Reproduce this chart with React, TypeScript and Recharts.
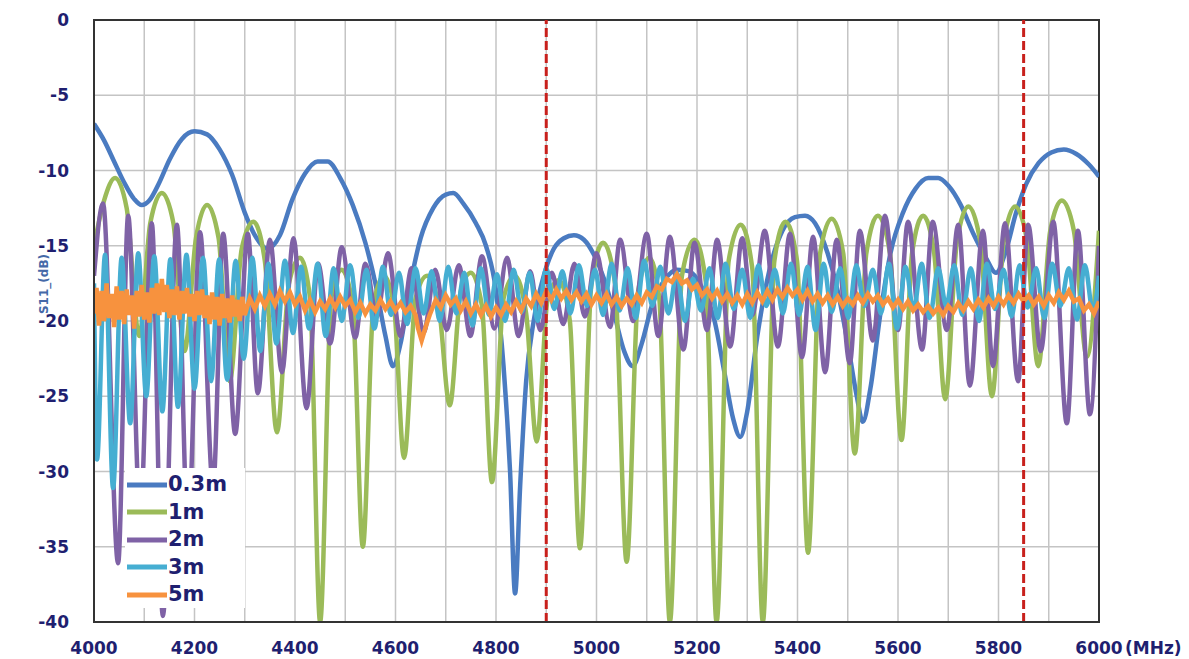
import React from 'react';
import { LineChart, Line, XAxis, YAxis, CartesianGrid, ReferenceLine, ReferenceArea, Legend } from 'recharts';

const xTicks = [4000, 4200, 4400, 4600, 4800, 5000, 5200, 5400, 5600, 5800, 6000];
const gridFreqs = [4000, 4100, 4200, 4300, 4400, 4500, 4600, 4700, 4800, 4900, 5000, 5100, 5200, 5300, 5400, 5500, 5600, 5700, 5800, 5900, 6000];
const yTicks = [0, -5, -10, -15, -20, -25, -30, -35, -40];
const markerFreqs = [4900, 5850];

const s03m: [number, number][] = [
  [4000, -6.9], [4020, -8.0], [4040, -9.4], [4060, -10.8], [4080, -11.9], [4095, -12.3], [4110, -12.0], [4130, -10.8],
  [4150, -9.3], [4175, -7.9], [4200, -7.4], [4225, -7.6], [4250, -8.6], [4275, -10.3], [4300, -12.8], [4320, -14.3],
  [4345, -15.2], [4370, -14.3], [4395, -11.9], [4420, -10.2], [4445, -9.4], [4465, -9.4], [4490, -10.5], [4515, -12.3],
  [4540, -14.8], [4560, -17.5], [4580, -21.0], [4595, -23.0], [4610, -21.5], [4630, -17.5], [4650, -14.5], [4675, -12.5],
  [4700, -11.6], [4715, -11.5], [4735, -12.2], [4760, -13.5], [4780, -15.0], [4800, -18.0], [4815, -23.0], [4828, -30.0],
  [4838, -38.1], [4848, -31.0], [4860, -24.0], [4875, -20.0], [4895, -17.0], [4915, -15.2], [4935, -14.5], [4955, -14.3],
  [4975, -14.6], [4995, -15.6], [5015, -17.2], [5035, -19.5], [5055, -22.0], [5072, -23.0], [5090, -21.5], [5110, -19.0],
  [5135, -17.3], [5160, -16.6], [5185, -16.7], [5210, -17.8], [5235, -20.0], [5255, -23.5], [5272, -26.5], [5286, -27.7],
  [5300, -26.0], [5320, -21.0], [5345, -16.5], [5370, -14.0], [5395, -13.1], [5415, -13.0], [5435, -13.5], [5460, -15.5],
  [5480, -18.0], [5500, -21.5], [5518, -25.0], [5530, -26.7], [5545, -24.5], [5565, -19.5], [5585, -15.5], [5610, -12.8],
  [5635, -11.2], [5660, -10.5], [5680, -10.5], [5700, -11.0], [5725, -12.3], [5750, -14.2], [5775, -15.8], [5795, -16.8],
  [5815, -15.3], [5835, -12.8], [5855, -10.9], [5880, -9.5], [5905, -8.8], [5930, -8.6], [5955, -8.9], [5980, -9.6], [6000, -10.4],
];

const s1m: [number, number][] = [
  [4000, -15.0], [4020, -12.0], [4042, -10.5], [4065, -12.5], [4090, -21.0], [4112, -13.5], [4135, -11.5], [4158, -13.5],
  [4180, -22.0], [4203, -14.5], [4225, -12.3], [4248, -14.5], [4270, -24.0], [4294, -15.2], [4317, -13.4], [4340, -16.0],
  [4364, -27.4], [4388, -17.5], [4410, -15.8], [4430, -18.5], [4450, -40], [4472, -18.5], [4493, -16.6], [4515, -19.0],
  [4535, -35.0], [4556, -19.0], [4577, -17.0], [4597, -19.0], [4617, -29.1], [4640, -18.5], [4663, -17.0], [4686, -19.0],
  [4708, -25.6], [4730, -18.0], [4750, -16.8], [4772, -19.0], [4792, -30.7], [4815, -18.5], [4837, -17.0], [4860, -19.5],
  [4881, -28.0], [4903, -18.5], [4925, -17.3], [4947, -20.0], [4967, -35.1], [4990, -17.5], [5013, -14.8], [5037, -17.5],
  [5060, -36.0], [5083, -18.0], [5105, -15.8], [5125, -18.5], [5146, -40], [5170, -17.0], [5195, -14.6], [5218, -17.5],
  [5239, -40], [5263, -16.0], [5287, -13.6], [5310, -16.5], [5331, -40], [5354, -16.0], [5376, -13.4], [5399, -16.0],
  [5421, -35.4], [5445, -15.5], [5468, -13.2], [5491, -15.5], [5514, -28.8], [5537, -15.5], [5560, -13.0], [5584, -15.5],
  [5607, -27.9], [5628, -15.5], [5650, -13.0], [5672, -15.5], [5694, -25.2], [5717, -14.8], [5740, -12.4], [5764, -14.8],
  [5787, -25.0], [5810, -14.8], [5833, -12.4], [5856, -14.5], [5879, -23.0], [5903, -14.0], [5926, -12.0], [5950, -14.0],
  [5976, -22.4], [6000, -14.0],
];

const s2m: [number, number][] = [
  [4000, -17.0], [4018, -12.2], [4048, -36.1], [4068, -13.0], [4092, -33.0], [4115, -13.5], [4137, -39.6], [4165, -13.6],
  [4187, -34.0], [4211, -14.1], [4237, -31.0], [4257, -14.2], [4281, -27.5], [4306, -14.2], [4326, -24.8], [4350, -14.6],
  [4374, -23.4], [4397, -14.5], [4423, -25.8], [4446, -16.2], [4470, -21.5], [4493, -15.1], [4520, -21.1], [4540, -16.2],
  [4563, -19.7], [4585, -15.5], [4610, -21.0], [4632, -16.5], [4656, -20.8], [4679, -16.6], [4702, -20.6], [4726, -16.3],
  [4749, -21.0], [4772, -15.7], [4797, -20.5], [4822, -15.8], [4845, -21.0], [4868, -16.7], [4888, -20.6], [4911, -16.8],
  [4934, -20.2], [4956, -16.2], [4977, -19.7], [5000, -15.5], [5027, -20.4], [5047, -14.6], [5073, -20.0], [5100, -14.2],
  [5123, -21.0], [5146, -14.4], [5173, -21.9], [5195, -14.8], [5220, -20.6], [5240, -14.6], [5266, -21.7], [5290, -14.5],
  [5310, -19.6], [5335, -14.0], [5361, -21.7], [5385, -14.2], [5409, -22.4], [5431, -14.4], [5455, -23.4], [5478, -14.6],
  [5504, -22.8], [5524, -14.0], [5550, -21.3], [5574, -13.0], [5600, -20.6], [5620, -13.4], [5648, -21.9], [5669, -13.4],
  [5697, -20.6], [5720, -13.6], [5743, -24.3], [5769, -14.0], [5789, -23.0], [5813, -13.5], [5839, -24.0], [5859, -13.6],
  [5884, -22.0], [5909, -13.4], [5936, -26.8], [5958, -14.0], [5982, -26.2], [6000, -15.0],
];

const s3m: [number, number][] = [
  [4000, -17.5], [4006, -29.2], [4022, -15.6], [4038, -31.1], [4055, -15.8], [4072, -26.8], [4088, -15.5], [4104, -25.0],
  [4120, -15.7], [4136, -26.0], [4152, -15.9], [4167, -25.7], [4184, -15.6], [4200, -24.5], [4217, -15.8], [4233, -24.0],
  [4249, -15.9], [4265, -23.9], [4282, -16.0], [4298, -22.5], [4315, -15.8], [4331, -22.0], [4347, -16.2], [4363, -21.5],
  [4380, -16.0], [4396, -20.8], [4412, -16.4], [4428, -20.5], [4445, -16.2], [4461, -21.0], [4477, -16.5], [4493, -20.0],
  [4510, -16.3], [4526, -19.8], [4542, -16.6], [4558, -20.5], [4575, -16.4], [4591, -19.6], [4607, -16.8], [4623, -20.2],
  [4640, -16.5], [4656, -19.5], [4672, -16.7], [4688, -20.0], [4705, -16.4], [4721, -19.5], [4737, -16.8], [4753, -20.3],
  [4770, -16.5], [4786, -19.6], [4802, -16.9], [4818, -20.0], [4835, -16.6], [4851, -19.4], [4867, -16.8], [4883, -20.0],
  [4900, -16.5], [4916, -19.2], [4932, -16.7], [4948, -19.5], [4965, -16.3], [4981, -19.0], [4997, -16.6], [5013, -19.6],
  [5030, -16.2], [5046, -19.3], [5062, -16.5], [5078, -19.8], [5095, -16.0], [5111, -19.0], [5127, -16.4], [5143, -19.5],
  [5160, -16.8], [5176, -20.0], [5192, -17.2], [5208, -19.3], [5225, -16.5], [5241, -19.8], [5257, -16.2], [5273, -19.2],
  [5290, -16.6], [5306, -19.8], [5322, -16.3], [5338, -19.0], [5355, -16.6], [5371, -19.5], [5387, -16.2], [5403, -19.6],
  [5420, -16.4], [5436, -20.6], [5452, -16.2], [5468, -19.4], [5485, -16.5], [5501, -19.8], [5517, -16.3], [5533, -19.0],
  [5550, -16.6], [5566, -19.5], [5582, -16.2], [5598, -20.5], [5615, -16.4], [5631, -19.3], [5647, -16.2], [5663, -19.8],
  [5680, -16.5], [5696, -19.0], [5712, -16.3], [5728, -19.6], [5745, -16.5], [5761, -20.0], [5777, -16.2], [5793, -19.2],
  [5810, -16.6], [5826, -19.7], [5842, -16.3], [5858, -19.1], [5875, -16.5], [5891, -19.8], [5907, -16.2], [5923, -19.0],
  [5940, -16.5], [5956, -19.9], [5972, -16.3], [5988, -19.4], [6000, -17.0],
];

const s5m: [number, number][] = [
  [4000, -19.5], [4005, -17.8], [4010, -20.3], [4015, -18.0], [4020, -20.0], [4025, -17.5], [4030, -19.8], [4035, -18.2],
  [4040, -20.4], [4045, -17.7], [4050, -19.9], [4055, -18.0], [4060, -20.2], [4065, -17.9], [4070, -19.6], [4075, -18.3],
  [4080, -20.5], [4085, -18.0], [4090, -19.7], [4095, -17.6], [4100, -19.9], [4105, -18.1], [4110, -20.1], [4115, -17.8],
  [4120, -19.5], [4125, -17.5], [4130, -19.6], [4135, -17.2], [4140, -19.4], [4145, -17.6], [4150, -19.8], [4155, -17.9],
  [4160, -19.6], [4165, -17.7], [4170, -19.9], [4175, -18.0], [4180, -19.5], [4185, -17.8], [4190, -19.7], [4195, -18.2],
  [4200, -20.0], [4205, -18.0], [4210, -19.6], [4215, -17.9], [4220, -19.8], [4225, -18.3], [4230, -20.2], [4235, -18.1],
  [4240, -19.9], [4245, -18.4], [4250, -20.3], [4255, -18.2], [4260, -19.8], [4265, -18.5], [4270, -20.1], [4275, -18.3],
  [4280, -19.7], [4285, -18.6], [4290, -20.0], [4295, -18.4], [4300, -19.6], [4310, -18.5], [4320, -19.2], [4330, -18.3],
  [4340, -19.0], [4350, -18.2], [4360, -18.9], [4370, -18.0], [4380, -18.7], [4390, -18.1], [4400, -18.9], [4410, -18.4],
  [4420, -19.3], [4430, -18.6], [4440, -19.4], [4450, -18.7], [4460, -19.2], [4470, -18.5], [4480, -19.1], [4490, -18.4],
  [4500, -19.0], [4510, -18.6], [4520, -19.4], [4530, -18.8], [4540, -19.5], [4550, -18.9], [4560, -19.3], [4570, -18.6],
  [4580, -19.2], [4590, -18.7], [4600, -19.3], [4610, -18.8], [4620, -19.4], [4630, -19.0], [4640, -19.6], [4645, -20.5],
  [4652, -21.3], [4660, -20.4], [4668, -19.6], [4680, -18.6], [4690, -19.1], [4700, -18.3], [4710, -18.9], [4720, -18.5],
  [4730, -19.3], [4740, -18.7], [4750, -19.5], [4760, -18.9], [4770, -19.6], [4780, -19.0], [4790, -19.7], [4800, -19.1],
  [4810, -19.6], [4820, -18.9], [4830, -19.4], [4840, -18.7], [4850, -19.3], [4860, -18.5], [4870, -19.0], [4880, -18.2],
  [4890, -18.8], [4900, -18.0], [4910, -18.6], [4920, -17.9], [4930, -18.5], [4940, -18.0], [4950, -18.6], [4960, -18.1],
  [4970, -18.7], [4980, -18.2], [4990, -18.9], [5000, -18.3], [5010, -18.8], [5020, -18.2], [5030, -18.9], [5040, -18.4],
  [5050, -19.0], [5060, -18.5], [5070, -18.9], [5080, -18.3], [5090, -18.8], [5100, -18.1], [5110, -18.4], [5120, -17.7],
  [5130, -17.9], [5140, -17.2], [5150, -17.4], [5160, -16.9], [5170, -17.5], [5180, -17.3], [5190, -17.9], [5200, -17.6],
  [5210, -18.3], [5220, -17.9], [5230, -18.5], [5240, -18.0], [5250, -18.7], [5260, -18.2], [5270, -18.8], [5280, -18.3],
  [5290, -18.9], [5300, -18.2], [5310, -18.8], [5320, -18.1], [5330, -18.7], [5340, -18.0], [5350, -18.6], [5360, -17.9],
  [5370, -18.4], [5380, -17.8], [5390, -18.3], [5400, -17.9], [5410, -18.6], [5420, -18.0], [5430, -18.7], [5440, -18.2],
  [5450, -18.8], [5460, -18.3], [5470, -18.9], [5480, -18.4], [5490, -19.0], [5500, -18.5], [5510, -18.9], [5520, -18.3],
  [5530, -18.8], [5540, -18.2], [5550, -18.7], [5560, -18.3], [5570, -18.9], [5580, -18.5], [5590, -19.1], [5600, -18.6],
  [5610, -19.2], [5620, -18.7], [5630, -19.3], [5640, -18.9], [5650, -19.4], [5660, -19.0], [5670, -19.5], [5680, -19.1],
  [5690, -19.6], [5700, -19.0], [5710, -19.4], [5720, -18.8], [5730, -19.3], [5740, -18.7], [5750, -19.2], [5760, -18.6],
  [5770, -19.1], [5780, -18.5], [5790, -19.0], [5800, -18.4], [5810, -18.9], [5820, -18.3], [5830, -18.8], [5840, -18.2],
  [5850, -18.7], [5860, -18.3], [5870, -18.9], [5880, -18.4], [5890, -19.0], [5900, -18.3], [5910, -18.8], [5920, -18.1],
  [5930, -18.6], [5940, -18.0], [5950, -18.7], [5960, -18.5], [5970, -19.3], [5980, -18.9], [5990, -19.5], [6000, -18.7],
];

const seriesNames = ['0.3m', '1m', '2m', '3m', '5m'];
const seriesColors = ['#4a7bc1', '#9bbb59', '#7f62a6', '#46aed2', '#f7923e'];
const seriesData = [s03m, s1m, s2m, s3m, s5m];
const seriesCurves: ('monotone' | 'linear')[] = ['monotone', 'monotone', 'monotone', 'monotone', 'linear'];

const NAVY = '#1f1f70';
const FONT = '"DejaVu Sans", Arial, sans-serif';

const XTick = (props: any) => {
  const { x, y, payload } = props;
  return (
    <g>
      <text x={x} y={y + 32} textAnchor="middle" fill={NAVY} fontFamily={FONT} fontWeight="bold" fontSize={17}>
        {payload.value}
      </text>
      {payload.value === 6000 ? (
        <text x={x + 26} y={y + 32} textAnchor="start" fill={NAVY} fontFamily={FONT} fontWeight="bold" fontSize={17}>
          (MHz)
        </text>
      ) : null}
    </g>
  );
};

const YTick = (props: any) => {
  const { x, y, payload } = props;
  return (
    <text x={x - 25} y={y + 6} textAnchor="end" fill={NAVY} fontFamily={FONT} fontWeight="bold" fontSize={17}>
      {payload.value}
    </text>
  );
};

const YLabel = (props: any) => {
  const vb = props.viewBox || { x: 0, y: 12, width: 86, height: 602 };
  const cx = vb.x + 36;
  const cy = vb.y + vb.height / 2 - 37;
  return (
    <text x={cx} y={cy} transform={`rotate(-90 ${cx} ${cy})`} textAnchor="middle" dominantBaseline="central"
      fill="#4569a8" fontFamily={FONT} fontWeight="bold" fontSize={12}>
      S11_(dB)
    </text>
  );
};

const LegendBox = (props: any) => {
  const payload = props.payload || [];
  return (
    <div style={{ background: '#fff', width: 120, height: 140, paddingTop: 3, boxSizing: 'border-box' }}>
      {payload.map((p: any) => (
        <div key={p.value} style={{ display: 'flex', alignItems: 'center', height: 27.5 }}>
          <svg width={43} height={10} style={{ display: 'block' }}>
            <line x1={2} y1={5} x2={42} y2={5} stroke={p.color} strokeWidth={5} />
          </svg>
          <span style={{ fontFamily: FONT, fontWeight: 'bold', fontSize: 21, color: NAVY, lineHeight: '27px' }}>{p.value}</span>
        </div>
      ))}
    </div>
  );
};

export default function App() {
  return (
    <div style={{ background: '#fff' }}>
      <LineChart width={1173} height={651} margin={{ top: 12, right: 82, bottom: 0, left: 0 }}>
        <XAxis xAxisId="grid" dataKey="f" type="number" domain={[4000, 6000]} ticks={gridFreqs} hide allowDataOverflow />
        <CartesianGrid xAxisId="grid" stroke="#c4c4c4" strokeWidth={1.5} />
        <XAxis
          dataKey="f"
          type="number"
          domain={[4000, 6000]}
          ticks={xTicks}
          allowDataOverflow
          height={37}
          tickLine={false}
          tickSize={0}
          tickMargin={0}
          axisLine={{ stroke: '#333', strokeWidth: 2 }}
          tick={<XTick />}
          interval={0}
        />
        <YAxis
          type="number"
          domain={[-40, 0]}
          ticks={yTicks}
          allowDataOverflow
          width={86}
          tickLine={false}
          tickSize={0}
          tickMargin={0}
          axisLine={{ stroke: '#333', strokeWidth: 2 }}
          tick={<YTick />}
          interval={0}
          label={(p: any) => <YLabel {...p} />}
        />
        {seriesData.map((d, i) => (
          <Line
            key={seriesNames[i]}
            name={seriesNames[i]}
            data={d.map(([f, v]) => ({ f, v }))}
            dataKey="v"
            type={seriesCurves[i]}
            stroke={seriesColors[i]}
            strokeWidth={4.5}
            dot={false}
            activeDot={false}
            isAnimationActive={false}
          />
        ))}
        {markerFreqs.map((m) => (
          <ReferenceLine key={m} x={m} stroke="#c8201c" strokeWidth={3} strokeDasharray="9 4" />
        ))}
        <ReferenceArea x1={4000} x2={6000} y1={-40} y2={0} fill="none" fillOpacity={0} stroke="#333" strokeWidth={2} />
        <Legend
          layout="vertical"
          align="center"
          verticalAlign="middle"
          content={<LegendBox />}
          wrapperStyle={{ position: 'absolute', left: 117, top: 460, width: 120, height: 140 }}
        />
      </LineChart>
    </div>
  );
}
